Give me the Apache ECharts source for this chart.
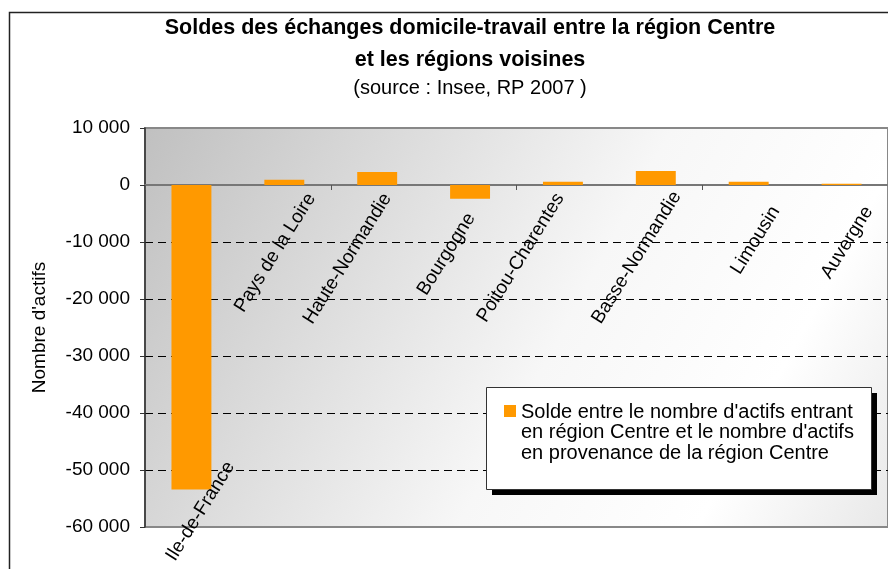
<!DOCTYPE html>
<html>
<head>
<meta charset="utf-8">
<script src="https://cdn.jsdelivr.net/npm/echarts@6/dist/echarts.min.js"></script>
<style>
  html, body { margin: 0; padding: 0; background: #fff; }
  #main { width: 888px; height: 569px; }
</style>
</head>
<body>
<div id="main"></div>
<script>
  // régions voisines et solde des actifs (entrants - sortants)
  const regions = ['Ile-de-France', 'Pays de la Loire', 'Haute-Normandie', 'Bourgogne',
    'Poitou-Charentes', 'Basse-Normandie', 'Limousin', 'Auvergne']
  const soldes = [-53400, 900, 2300, -2400, 550, 2450, 550, 200]
  const serieName = "Solde entre le nombre d'actifs entrant\nen région Centre et le nombre d'actifs\nen provenance de la région Centre"
  const yMin = -60000
  const yMax = 10000
  const yStep = 10000

  // décalage écran (px) des étiquettes, comme placées par le tableur
  const labelShift = [[12, -36], [0, 0], [-17, 0], [-26, 6], [-30, 0], [-6, -2], [0, 13], [0, 13]]
  const rot = 58
  const base = [27, 10]

  const font = 'Liberation Sans, Arial, sans-serif'
  const fmt = v => String(v).replace(/\B(?=(\d{3})+(?!\d))/g, ' ')
  // l'offset d'une étiquette tournée est exprimé dans son repère local
  const toLocal = (dx, dy) => {
    const a = rot * Math.PI / 180
    const c = Math.cos(a), s = Math.sin(a)
    return [dx * c - dy * s, dx * s + dy * c]
  }

  const myChart = echarts.init(document.getElementById('main'))
  myChart.setOption({
    animation: false,
    textStyle: { fontFamily: font },
    title: {
      text: 'Soldes des échanges domicile-travail entre la région Centre\net les régions voisines',
      subtext: '(source : Insee, RP 2007 )',
      left: 470,
      top: 12,
      textAlign: 'center',
      padding: 0,
      itemGap: 0,
      textStyle: { fontSize: 21.5, fontWeight: 'bold', color: '#000', lineHeight: 32, fontFamily: font },
      subtextStyle: { fontSize: 20, color: '#000', lineHeight: 24, fontFamily: font }
    },
    graphic: [{
      // cadre du graphique
      type: 'rect',
      left: 7,
      top: 10,
      z: -10,
      shape: { width: 920, height: 600 },
      style: { fill: 'none', stroke: '#222', lineWidth: 1.5 }
    }, {
      // ombre de la légende
      type: 'rect',
      left: 492,
      top: 393,
      z: 3,
      shape: { width: 385, height: 102 },
      style: { fill: '#000' }
    }, {
      type: 'rect',
      left: 486,
      top: 387,
      z: 3,
      shape: { width: 385, height: 102 },
      style: { fill: '#fff', stroke: '#333', lineWidth: 1 }
    }],
    legend: {
      left: 486,
      top: 387,
      orient: 'vertical',
      padding: [14, 13, 25, 18],
      itemWidth: 12,
      itemHeight: 63,
      icon: 'path://M0,4L12,4L12,16L0,16Z M0,0L0,63',
      textStyle: { fontSize: 20, lineHeight: 20.5, color: '#000', fontFamily: font },
      data: [serieName]
    },
    grid: {
      show: true,
      left: 145,
      top: 128,
      right: -3,
      bottom: 42,
      borderColor: '#888',
      borderWidth: 2,
      backgroundColor: {
        type: 'linear', x: 0, y: 0, x2: 1, y2: 1,
        colorStops: [
          { offset: 0, color: '#c0c0c0' },
          { offset: 0.55, color: '#f7f7f7' },
          { offset: 0.8, color: '#ffffff' },
          { offset: 1, color: '#e8e8e8' }
        ]
      }
    },
    xAxis: {
      type: 'category',
      data: regions,
      axisLine: { lineStyle: { color: '#777', width: 2 } },
      axisTick: { show: true, length: 5, lineStyle: { color: '#555' } },
      axisLabel: { show: false }
    },
    yAxis: {
      type: 'value',
      min: yMin,
      max: yMax,
      interval: yStep,
      name: "Nombre d'actifs",
      nameLocation: 'middle',
      nameGap: 96,
      nameTextStyle: { fontSize: 19, color: '#000', fontFamily: font },
      axisLine: { show: true, lineStyle: { color: '#333', width: 1.5 } },
      axisTick: { show: true, length: 5, lineStyle: { color: '#333' } },
      axisLabel: { fontSize: 19, color: '#000', margin: 15, formatter: fmt, fontFamily: font },
      splitLine: {
        show: true,
        lineStyle: {
          type: [8, 5],
          width: 1,
          color: ['rgba(0,0,0,0)', '#000', '#000', '#000', '#000', '#000', 'rgba(0,0,0,0)', 'rgba(0,0,0,0)']
        }
      }
    },
    series: [{
      name: serieName,
      type: 'bar',
      barWidth: '43%',
      itemStyle: { color: '#ff9900' },
      label: {
        show: true,
        position: 'bottom',
        distance: 0,
        formatter: '{b}',
        rotate: rot,
        align: 'right',
        verticalAlign: 'middle',
        fontSize: 19,
        color: '#000',
        fontFamily: font
      },
      data: soldes.map((v, i) => ({
        value: v,
        label: { offset: toLocal(base[0] + labelShift[i][0], base[1] + labelShift[i][1]) }
      }))
    }]
  })
</script>
</body>
</html>
